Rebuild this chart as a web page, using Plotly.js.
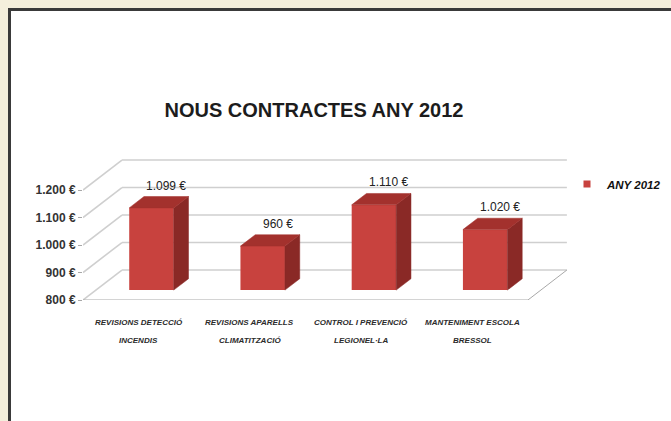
<!DOCTYPE html>
<html><head><meta charset="utf-8">
<script src="https://cdn.plot.ly/plotly-3.0.1.min.js"></script>
<style>
html,body{margin:0;padding:0;background:#f4efdc;width:671px;height:421px;overflow:hidden}
#panel{position:absolute;left:8px;top:8px;width:660px;height:420px;background:#fff;border-left:3px solid #3a3a3a;border-top:3px solid #3a3a3a;}
#chart{position:absolute;left:0;top:0;width:671px;height:421px}
</style></head><body>
<div id="panel"></div><div id="chart"></div>
<script>
// ---- data ----
const chartTitle = 'NOUS CONTRACTES ANY 2012';
const seriesName = 'ANY 2012';
const categoriesLine1 = ['REVISIONS DETECCIÓ', 'REVISIONS APARELLS', 'CONTROL I PREVENCIÓ', 'MANTENIMENT ESCOLA'];
const categoriesLine2 = ['INCENDIS', 'CLIMATITZACIÓ', 'LEGIONEL·LA', 'BRESSOL'];
const values = [1099, 960, 1110, 1020];
const yTicks = [800, 900, 1000, 1100, 1200];

// ---- geometry / style ----
const YMIN = 800, YMAX = 1345.5, XMAX = 4.45;
const DX = 0.35, DY = 109;          // depth offset of the back wall
const F0 = 0.33, F1 = 0.71;         // bar depth band
const BW = 0.4;                     // bar width
const FRONT = '#c8423e', SIDE = '#8a2926', TOP = '#a3312d';
const GRID = '#cfcfcf', AXIS = '#a8a8a8';
const SANS = '"Liberation Sans", Arial, sans-serif';

const fmt = v => String(v).replace(/\B(?=(\d{3})+(?!\d))/g, '.') + ' €';
const n = values.length;

const shapes = [];
yTicks.forEach(v => {
  shapes.push({type:'line', layer:'below', x0:0, y0:v, x1:DX, y1:v+DY, line:{color:GRID, width:1.6}});
  shapes.push({type:'line', layer:'below', x0:DX, y0:v+DY, x1:n+DX, y1:v+DY, line:{color:GRID, width:1.6}});
});
shapes.push({type:'line', layer:'below', x0:0, y0:YMIN, x1:n, y1:YMIN, line:{color:AXIS, width:1}});
shapes.push({type:'line', layer:'below', x0:n, y0:YMIN, x1:n+DX, y1:YMIN+DY, line:{color:AXIS, width:1}});
for (let i = 0; i <= n; i++) {
  shapes.push({type:'line', layer:'below', x0:i, x1:i, ysizemode:'pixel', yanchor:YMIN, y0:0, y1:-4, line:{color:AXIS, width:1}});
}

const traces = [];
const base = YMIN + F0*DY;
const dd = (F1-F0)*DX, ddy = (F1-F0)*DY;
// front faces
traces.push({type:'bar', x: values.map((v,i)=> i+0.5+F0*DX), y: values.map(v=> v-YMIN), base: base,
  width: BW, marker:{color:FRONT, line:{width:0}}, showlegend:false, hoverinfo:'skip'});
values.forEach((v,i) => {
  const xc = i+0.5+F0*DX, xl = xc-BW/2, xr = xc+BW/2, t = v+F0*DY;
  traces.push({type:'scatter', mode:'lines', fill:'toself', fillcolor:SIDE, line:{color:SIDE, width:0.5},
    x:[xr, xr, xr+dd, xr+dd, xr], y:[base, t, t+ddy, base+ddy, base], showlegend:false, hoverinfo:'skip'});
  traces.push({type:'scatter', mode:'lines', fill:'toself', fillcolor:TOP, line:{color:TOP, width:0.5},
    x:[xl, xr, xr+dd, xl+dd, xl], y:[t, t, t+ddy, t+ddy, t], showlegend:false, hoverinfo:'skip'});
});
// legend entry
traces.push({type:'scatter', mode:'markers', x:[null], y:[null], name: seriesName,
  marker:{symbol:'square', size:7, color:FRONT}, showlegend:true});

const annotations = [];
values.forEach((v,i) => {
  annotations.push({x: i+0.5+F1*DX, y: v+F1*DY, yanchor:'bottom', yshift:2, showarrow:false,
    text: fmt(v), font:{family:SANS, size:12, color:'#222'}});
  annotations.push({x: i+0.5, y: YMIN, yanchor:'middle', yshift:-22, showarrow:false,
    text: categoriesLine1[i], font:{family:SANS, size:8, color:'#2b2b2b', weight:'bold', style:'italic'}});
  annotations.push({x: i+0.5, y: YMIN, yanchor:'middle', yshift:-40, showarrow:false,
    text: categoriesLine2[i], font:{family:SANS, size:8, color:'#2b2b2b', weight:'bold', style:'italic'}});
});

const layout = {
  width: 671, height: 421,
  margin: {l:83, r:93, t:150, b:121, autoexpand:false},
  paper_bgcolor: 'rgba(0,0,0,0)', plot_bgcolor: 'rgba(0,0,0,0)',
  title: {text: chartTitle, xref:'container', yref:'container', x: 314/671, y: 1-110/421,
    xanchor:'center', yanchor:'middle', font:{family:SANS, size:20, color:'#1c1c1c', weight:'bold'}},
  xaxis: {range:[0, XMAX], showgrid:false, zeroline:false, showline:false, showticklabels:false, ticks:'', fixedrange:true},
  yaxis: {range:[YMIN, YMAX], tickvals: yTicks, ticktext: yTicks.map(fmt), ticks:'outside', ticklen:4,
    tickcolor: AXIS, showgrid:false, zeroline:false, showline:false, automargin:false,
    tickfont:{family:SANS, size:12, color:'#333', weight:'bold'}},
  legend: {xref:'container', yref:'container', x: 567/671, y: 1-184/421, xanchor:'left', yanchor:'middle', bgcolor:'rgba(0,0,0,0)',
    font:{family:SANS, size:11.5, color:'#111', weight:'bold', style:'italic'}},
  barmode: 'overlay',
  shapes: shapes,
  annotations: annotations,
  showlegend: true
};
Plotly.newPlot('chart', traces, layout, {staticPlot:true, displayModeBar:false});
</script>
</body></html>
